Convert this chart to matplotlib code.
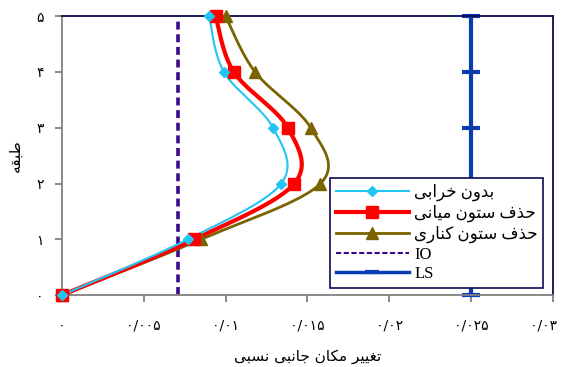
import numpy as np
import matplotlib
matplotlib.use("Agg")
import matplotlib.pyplot as plt
import matplotlib.transforms as mtransforms
from matplotlib.lines import Line2D

# ---------------- data ----------------
floors = [0, 1, 2, 3, 4, 5]
drift_intact = [0.0, 0.0077, 0.0134, 0.0129, 0.0099, 0.0090]
drift_middle = [0.0, 0.0081, 0.0142, 0.0138, 0.0105, 0.0094]
drift_corner = [0.0, 0.0085, 0.0158, 0.0152, 0.0118, 0.0100]
io_limit = 0.0071
ls_limit = 0.025
x_ticks = [0, 0.005, 0.01, 0.015, 0.02, 0.025, 0.03]
x_tick_labels = ["۰", "۰/۰۰۵", "۰/۰۱", "۰/۰۱۵", "۰/۰۲", "۰/۰۲۵", "۰/۰۳"]
y_tick_labels = ["۰", "۱", "۲", "۳", "۴", "۵"]
label_intact = "بدون خرابی"
label_middle = "حذف ستون میانی"
label_corner = "حذف ستون کناری"
x_title = "تغییر مکان جانبی نسبی"
y_title = "طبقه"

# ------------- simple Persian shaping (matplotlib has no bidi/shaping) -------------
FORMS = {
    'ا': ('\uFE8D', '\uFE8E'), 'د': ('\uFEA9', '\uFEAA'), 'ذ': ('\uFEAB', '\uFEAC'),
    'ر': ('\uFEAD', '\uFEAE'), 'و': ('\uFEED', '\uFEEE'),
    'ب': ('\uFE8F', '\uFE90', '\uFE91', '\uFE92'), 'ت': ('\uFE95', '\uFE96', '\uFE97', '\uFE98'),
    'ج': ('\uFE9D', '\uFE9E', '\uFE9F', '\uFEA0'), 'ح': ('\uFEA1', '\uFEA2', '\uFEA3', '\uFEA4'),
    'خ': ('\uFEA5', '\uFEA6', '\uFEA7', '\uFEA8'), 'س': ('\uFEB1', '\uFEB2', '\uFEB3', '\uFEB4'),
    'ط': ('\uFEC1', '\uFEC2', '\uFEC3', '\uFEC4'), 'غ': ('\uFECD', '\uFECE', '\uFECF', '\uFED0'),
    'ف': ('\uFED1', '\uFED2', '\uFED3', '\uFED4'), 'ق': ('\uFED5', '\uFED6', '\uFED7', '\uFED8'),
    'م': ('\uFEE1', '\uFEE2', '\uFEE3', '\uFEE4'), 'ن': ('\uFEE5', '\uFEE6', '\uFEE7', '\uFEE8'),
    'ه': ('\uFEE9', '\uFEEA', '\uFEEB', '\uFEEC'), 'ی': ('\uFEEF', '\uFEF0', '\uFEF3', '\uFEF4'),
    'ک': ('\uFB8E', '\uFB8F', '\uFEDB', '\uFEDC'),
}


def shape(text):
    out = []
    n = len(text)
    for i, ch in enumerate(text):
        f = FORMS.get(ch)
        if f is None:
            out.append(ch)
            continue
        prev = text[i - 1] if i > 0 else None
        nxt = text[i + 1] if i < n - 1 else None
        join_prev = prev is not None and prev in FORMS and len(FORMS[prev]) == 4
        join_next = len(f) == 4 and nxt is not None and nxt in FORMS
        if join_prev and join_next:
            out.append(f[3])
        elif join_prev:
            out.append(f[1])
        elif join_next:
            out.append(f[2])
        else:
            out.append(f[0])
    return ''.join(reversed(out))


# ------------- figure -------------
fig = plt.figure(figsize=(5.63, 3.67), dpi=100)
AX_W, AX_H = 0.872, 0.760
ax = fig.add_axes([0.110, 0.196, AX_W, AX_H])
ax.set_xlim(0, 0.03)
ax.set_ylim(0, 5)

W = AX_W * 563
H = AX_H * 367


def smooth(xs, ys, steps=30):
    # Catmull-Rom in display-proportional coordinates (Excel-like smoothed line)
    P = np.column_stack([np.asarray(xs) / 0.03 * W, np.asarray(ys) / 5 * H])
    P = np.vstack([P[0], P, P[-1]])
    pts = []
    for i in range(1, len(P) - 2):
        p0, p1, p2, p3 = P[i - 1], P[i], P[i + 1], P[i + 2]
        b1 = p1 + (p2 - p0) / 6
        b2 = p2 - (p3 - p1) / 6
        t = np.linspace(0, 1, steps)[:, None]
        seg = ((1 - t) ** 3) * p1 + 3 * ((1 - t) ** 2) * t * b1 + 3 * (1 - t) * t ** 2 * b2 + t ** 3 * p2
        pts.append(seg if i == 1 else seg[1:])
    pts = np.vstack(pts)
    return pts[:, 0] / W * 0.03, pts[:, 1] / H * 5


c_blue = '#22C4F2'
c_red = '#FF0000'
c_olive = '#7A6400'
c_io = '#3A0A8C'
c_ls = '#0A3DB4'

for xs, c, lw, mk, ms in [
    (drift_corner, c_olive, 2.0, '^', 8),
    (drift_middle, c_red, 3.0, 's', 9),
    (drift_intact, c_blue, 1.5, 'D', 5.5),
]:
    sx, sy = smooth(xs, floors)
    ax.plot(sx, sy, color=c, lw=lw, zorder=3, clip_on=False)
    ax.plot(xs, floors, ls='none', marker=mk, ms=ms, color=c, mec=c, zorder=4, clip_on=False)

ax.plot([io_limit] * 2, [floors[0], floors[-1] - 0.08], color=c_io, lw=2.6, ls=(0, (2.2, 1.3)), zorder=2)
ax.plot([ls_limit] * len(floors), floors, color=c_ls, lw=3, marker='_', ms=13, mew=3,
        zorder=2, clip_on=False)

# spines / ticks
for s in ['left', 'bottom']:
    ax.spines[s].set_color('#808080')
    ax.spines[s].set_linewidth(1.3)
for s in ['top', 'right']:
    ax.spines[s].set_color('#0A0A50')
    ax.spines[s].set_linewidth(1.3)

ax.set_xticks(x_ticks)
ax.set_xticklabels(x_tick_labels, family=['DejaVu Sans'], fontsize=10)
ax.set_yticks(floors)
ax.set_yticklabels(y_tick_labels, family=['DejaVu Sans'], fontsize=10)
ax.tick_params(axis='both', direction='out', length=5, width=1.3, color='#808080')
ax.tick_params(axis='x', pad=12)
ax.tick_params(axis='y', pad=8)

# keep the last x tick label inside the figure
last = ax.get_xticklabels()[-1]
last.set_transform(last.get_transform() + mtransforms.ScaledTranslation(-9 / 100, 0, fig.dpi_scale_trans))

ax.set_xlabel(shape(x_title), family=['DejaVu Sans'], fontsize=11, labelpad=12)
ax.set_ylabel(shape(y_title), family=['DejaVu Sans'], fontsize=11, labelpad=10)

handles = [
    Line2D([], [], color=c_blue, lw=1.5, marker='D', ms=5.5),
    Line2D([], [], color=c_red, lw=3, marker='s', ms=9),
    Line2D([], [], color=c_olive, lw=2, marker='^', ms=8),
    Line2D([], [], color=c_io, lw=1.5, ls=(0, (2.5, 1.2))),
    Line2D([], [], color=c_ls, lw=2.5, marker='_', ms=10, mew=3),
]
labels = [shape(label_intact), shape(label_middle), shape(label_corner), 'IO', 'LS']
leg = ax.legend(handles, labels, loc='lower left', bbox_to_anchor=(0.546, 0.025, 0.434, 0.394),
                mode='expand', borderaxespad=0, fancybox=False, framealpha=1, edgecolor='#0A0A50',
                handlelength=4.4, handletextpad=0.3, borderpad=0.35, labelspacing=0.22,
                prop={'family': ['Liberation Serif', 'DejaVu Sans'], 'size': 12})
leg.get_frame().set_linewidth(1.2)
leg.set_zorder(5)

fig.savefig('out.png', dpi=100)
